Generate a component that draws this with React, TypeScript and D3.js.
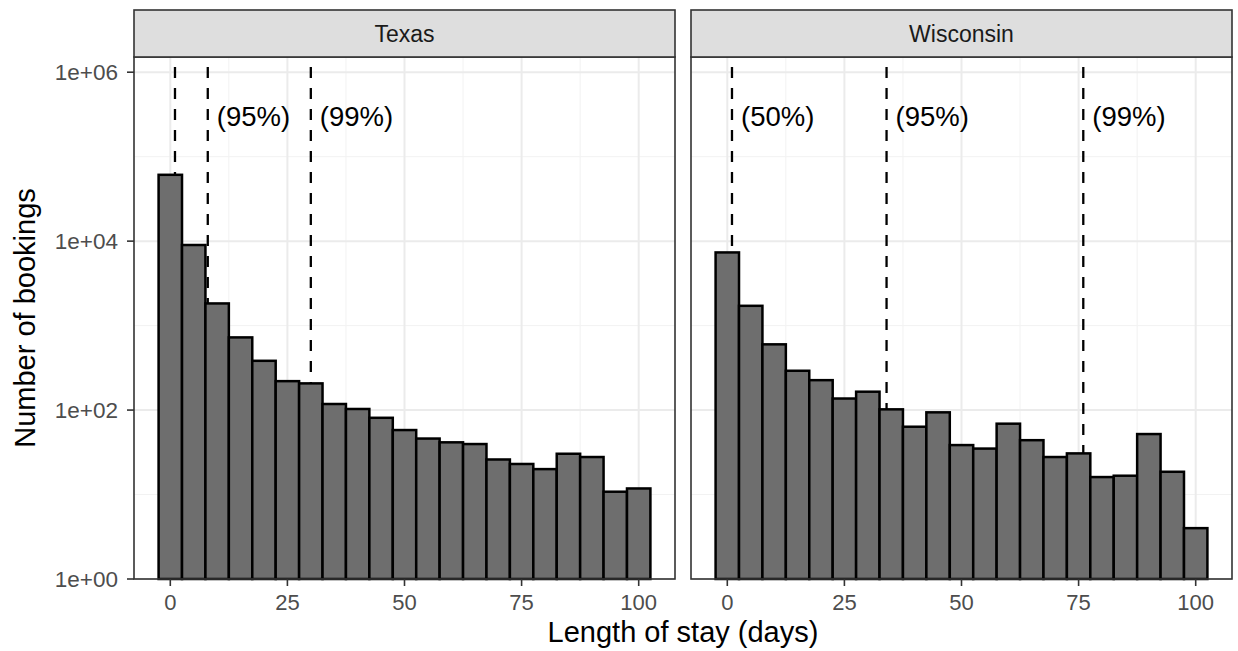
import React from 'react';
import * as d3 from 'd3';

// facet names
const states = ['Texas', 'Wisconsin'];

// histogram bin centres (binwidth 5 days)
const binCenters = [0, 5, 10, 15, 20, 25, 30, 35, 40, 45, 50, 55, 60, 65, 70, 75, 80, 85, 90, 95, 100];

// bookings per bin
const texasCounts = [61000, 9000, 1830, 725, 383, 220, 207, 118, 103, 81, 58, 46, 41.5, 39.6, 26, 23, 20, 30.4, 27.8, 10.8, 11.8];
const wisconsinCounts = [7350, 1715, 600, 292, 226, 137, 165, 102, 63.5, 94, 38.5, 35, 69, 44, 27.8, 30.7, 16.1, 16.7, 52, 18.6, 4];

// percentile cut-offs (days) and their labels
const texasCutoffs = [1, 8, 30];
const texasCutoffLabels = ['', '(95%)', '(99%)'];
const wisconsinCutoffs = [1, 34, 76];
const wisconsinCutoffLabels = ['(50%)', '(95%)', '(99%)'];

// axis ticks
const xTicks = [0, 25, 50, 75, 100];
const xMinorTicks = [12.5, 37.5, 62.5, 87.5];
const yTicks = [1, 100, 10000, 1000000];
const yTickLabels = ['1e+00', '1e+02', '1e+04', '1e+06'];
const yMinorTicks = [10, 1000, 100000];

const countsByState = [texasCounts, wisconsinCounts];
const cutoffsByState = [texasCutoffs, wisconsinCutoffs];
const cutoffLabelsByState = [texasCutoffLabels, wisconsinCutoffLabels];

const W = 1238;
const H = 651;
const font = '"Liberation Sans", Arial, Helvetica, sans-serif';

const panelTop = 57;
const panelBottom = 579;
const stripTop = 10;
const panelLefts = [134, 691];
const panelWidth = 541;
const binWidth = 5;

const App = () => {
  const y = d3.scaleLog().domain([1, Math.pow(10, 6.18)]).range([panelBottom, panelTop]);
  const labelY = 3e5;

  return (
    <svg width={W} height={H} style={{ position: 'absolute', left: 0, top: 0, background: '#fff' }}
      fontFamily={font}>
      {states.map((state, i) => {
        const left = panelLefts[i];
        const x = d3.scaleLinear().domain([-7.75, 107.75]).range([left, left + panelWidth]);
        const counts = countsByState[i];
        return (
          <g key={state}>
            {/* grid */}
            {xMinorTicks.map(t => (
              <line key={'xm' + t} x1={x(t)} x2={x(t)} y1={panelTop} y2={panelBottom} stroke="#f2f2f2" strokeWidth={1} />
            ))}
            {yMinorTicks.map(t => (
              <line key={'ym' + t} x1={left} x2={left + panelWidth} y1={y(t)} y2={y(t)} stroke="#f2f2f2" strokeWidth={1} />
            ))}
            {xTicks.map(t => (
              <line key={'xg' + t} x1={x(t)} x2={x(t)} y1={panelTop} y2={panelBottom} stroke="#ebebeb" strokeWidth={2} />
            ))}
            {yTicks.map(t => (
              <line key={'yg' + t} x1={left} x2={left + panelWidth} y1={y(t)} y2={y(t)} stroke="#ebebeb" strokeWidth={2} />
            ))}

            {/* percentile lines */}
            {cutoffsByState[i].map((c, j) => (
              <g key={'c' + j}>
                <line x1={x(c)} x2={x(c)} y1={panelTop} y2={panelBottom} stroke="#000" strokeWidth={2.3}
                  strokeDasharray="11,10" strokeDashoffset={11} />
                {cutoffLabelsByState[i][j] && (
                  <text x={x(c) + 9} y={y(labelY)} dy="0.35em" fontSize={27.5} fill="#000">
                    {cutoffLabelsByState[i][j]}
                  </text>
                )}
              </g>
            ))}

            {/* bars */}
            {binCenters.map((b, k) => (
              <rect key={'b' + b} x={x(b - binWidth / 2)} width={x(b + binWidth / 2) - x(b - binWidth / 2)}
                y={y(counts[k])} height={y(1) - y(counts[k])}
                fill="#6e6e6e" stroke="#000" strokeWidth={2.5} />
            ))}

            {/* panel border */}
            <rect x={left} y={panelTop} width={panelWidth} height={panelBottom - panelTop}
              fill="none" stroke="#333" strokeWidth={1.6} />

            {/* strip */}
            <rect x={left} y={stripTop} width={panelWidth} height={panelTop - stripTop}
              fill="#dedede" stroke="#333" strokeWidth={1.6} />
            <text x={left + panelWidth / 2} y={41.5} textAnchor="middle" fontSize={23} fill="#1a1a1a">{state}</text>

            {/* x axis */}
            {xTicks.map(t => (
              <g key={'xt' + t}>
                <line x1={x(t)} x2={x(t)} y1={panelBottom} y2={panelBottom + 7} stroke="#333" strokeWidth={1.6} />
                <text x={x(t)} y={610} textAnchor="middle" fontSize={22} fill="#4d4d4d">{t}</text>
              </g>
            ))}
          </g>
        );
      })}

      {/* y axis */}
      {yTicks.map((t, k) => (
        <g key={'yt' + t}>
          <line x1={panelLefts[0] - 7} x2={panelLefts[0]} y1={y(t)} y2={y(t)} stroke="#333" strokeWidth={1.6} />
          <text x={118} y={y(t)} dy="0.35em" textAnchor="end" fontSize={22.5} fill="#4d4d4d">{yTickLabels[k]}</text>
        </g>
      ))}

      <text x={683} y={642} textAnchor="middle" fontSize={29} fill="#000">Length of stay (days)</text>
      <text transform={`translate(35, ${(panelTop + panelBottom) / 2}) rotate(-90)`} textAnchor="middle"
        fontSize={29} fill="#000">Number of bookings</text>
    </svg>
  );
};

export default App;
